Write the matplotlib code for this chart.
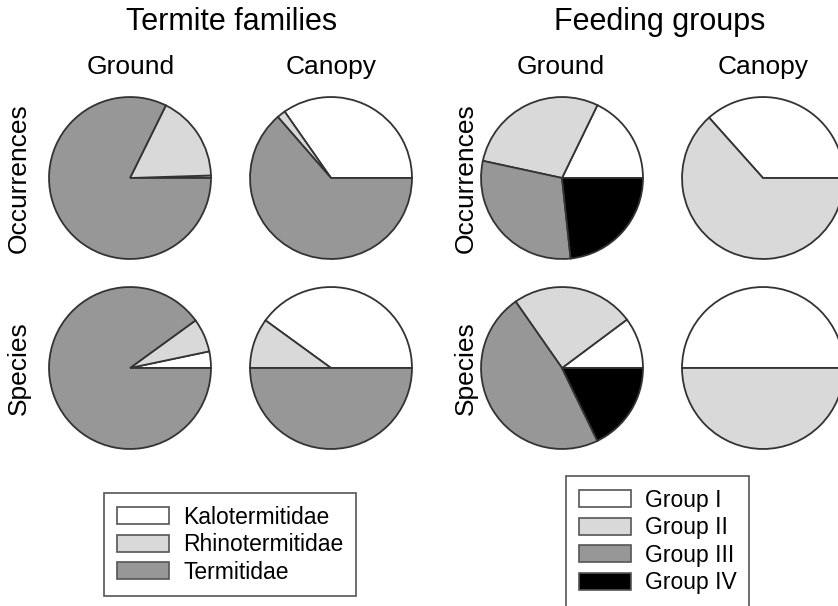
import matplotlib.pyplot as plt
from matplotlib.patches import Patch

plt.rcParams['font.family'] = ['Liberation Sans', 'DejaVu Sans']

W, H = 838, 606

# termite families: Kalotermitidae, Rhinotermitidae, Termitidae (%)
family_names = ["Kalotermitidae", "Rhinotermitidae", "Termitidae"]
family_colors = ["white", "#d9d9d9", "#979797"]
fam_ground_occ = [0.5, 17.2, 82.3]
fam_canopy_occ = [34.7, 1.7, 63.6]
fam_ground_sp = [3.3, 6.7, 90.0]
fam_canopy_sp = [40.0, 10.0, 50.0]

# feeding groups I-IV (%)
group_names = ["Group I", "Group II", "Group III", "Group IV"]
group_colors = ["white", "#d9d9d9", "#979797", "black"]
grp_ground_occ = [17.8, 28.8, 30.1, 23.3]
grp_canopy_occ = [36.6, 63.4, 0, 0]
grp_ground_sp = [10.2, 24.5, 47.5, 17.8]
grp_canopy_sp = [50.0, 50.0, 0, 0]

fig = plt.figure(figsize=(W / 100, H / 100), dpi=100)

R = 81  # pie radius in px


def pie_at(cx, cy, vals, colors):
    ax = fig.add_axes([(cx - R - 2) / W, 1 - (cy + R + 2) / H,
                       (2 * R + 4) / W, (2 * R + 4) / H])
    ax.pie(vals, colors=colors, startangle=0, counterclock=True,
           radius=1.0, wedgeprops=dict(edgecolor="#333333", linewidth=1.3))
    ax.set_xlim(-1.025, 1.025)
    ax.set_ylim(-1.025, 1.025)
    ax.set_aspect("equal")
    ax.axis("off")
    return ax


def nz(vals, colors):
    keep = [(v, c) for v, c in zip(vals, colors) if v > 0]
    return [k[0] for k in keep], [k[1] for k in keep]


pie_at(130, 178, fam_ground_occ, family_colors)
pie_at(331, 178, fam_canopy_occ, family_colors)
pie_at(130, 368, fam_ground_sp, family_colors)
pie_at(331, 368, fam_canopy_sp, family_colors)

pie_at(562, 178, grp_ground_occ, group_colors)
pie_at(763, 178, *nz(grp_canopy_occ, group_colors))
pie_at(562, 368, grp_ground_sp, group_colors)
pie_at(763, 368, *nz(grp_canopy_sp, group_colors))


def txt(x, y, s, size, rot=0):
    fig.text(x / W, 1 - y / H, s, fontsize=size, rotation=rot,
             ha="center", va="center")


txt(232, 22, "Termite families", 22)
txt(660, 22, "Feeding groups", 22)
txt(131, 67, "Ground", 19)
txt(331, 67, "Canopy", 19)
txt(561, 67, "Ground", 19)
txt(763, 67, "Canopy", 19)
txt(19, 178, "Occurrences", 19, 90)
txt(19, 368, "Species", 19, 90)
txt(466, 178, "Occurrences", 19, 90)
txt(466, 368, "Species", 19, 90)

fam_handles = [Patch(facecolor=c, edgecolor="#555555", linewidth=1.2)
               for c in family_colors]
grp_handles = [Patch(facecolor=c, edgecolor="#555555", linewidth=1.2)
               for c in group_colors]

leg_kw = dict(loc="upper left", fontsize=16.5, fancybox=False,
              edgecolor="#555555", framealpha=1, handlelength=2.3,
              handleheight=0.75, labelspacing=0.2, handletextpad=0.6,
              borderpad=0.55, borderaxespad=0)
leg1 = fig.legend(fam_handles, family_names,
                  bbox_to_anchor=(104 / W, 1 - 493 / H), **leg_kw)
leg1.get_frame().set_linewidth(1.2)
leg2 = fig.legend(grp_handles, group_names,
                  bbox_to_anchor=(566 / W, 1 - 476 / H), **leg_kw)
leg2.get_frame().set_linewidth(1.2)

fig.savefig("out.png", dpi=100)
